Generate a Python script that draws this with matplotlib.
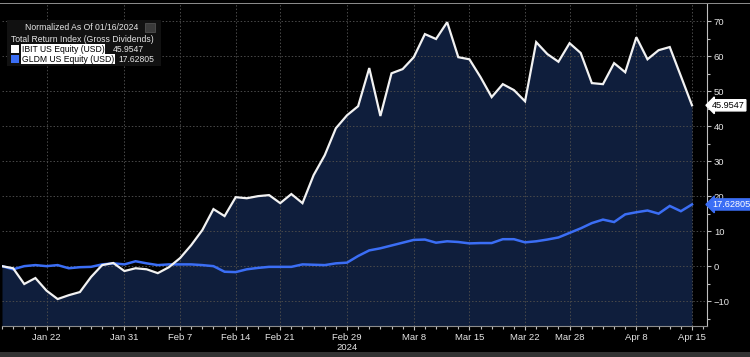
import numpy as np
import matplotlib.pyplot as plt
from matplotlib.patches import Rectangle
from matplotlib.ticker import FixedLocator, MultipleLocator

# IBIT vs GLDM, total return normalized as of 01/16/2024 (one point per trading day)
ibit = [0.0, -0.6, -5.1, -3.4, -7.0, -9.4, -8.3, -7.4, -3.1, 0.3,
        0.9, -1.4, -0.6, -0.9, -2.0, -0.3, 2.3, 6.0, 10.3, 16.3,
        14.3, 19.7, 19.4, 20.0, 20.3, 18.0, 20.6, 18.0, 26.0, 31.7,
        39.4, 43.1, 45.7, 56.6, 42.9, 55.1, 56.3, 59.7, 66.3, 64.9,
        69.7, 59.7, 59.1, 54.0, 48.3, 52.0, 50.3, 47.1, 64.0, 60.6,
        58.4, 63.7, 60.9, 52.3, 52.0, 58.0, 55.4, 65.4, 59.1, 61.7,
        62.6, 54.3, 45.9547]
gldm = [0.0, -0.9, 0.0, 0.3, 0.0, 0.3, -0.6, -0.3, -0.2, 0.5,
        0.8, 0.5, 1.4, 0.8, 0.3, 0.5, 0.5, 0.5, 0.3, 0.0,
        -1.6, -1.7, -0.9, -0.5, -0.2, -0.2, -0.2, 0.5, 0.4, 0.3,
        0.8, 1.0, 2.9, 4.5, 5.1, 5.9, 6.7, 7.5, 7.6, 6.7,
        7.1, 6.9, 6.5, 6.6, 6.6, 7.7, 7.7, 6.8, 7.1, 7.6,
        8.2, 9.5, 10.8, 12.3, 13.3, 12.6, 14.8, 15.4, 15.9, 15.0,
        17.2, 15.7, 17.62805]

tick_idx = [4, 11, 16, 21, 25, 31, 37, 42, 47, 51, 57, 62]
tick_lbl = ['Jan 22', 'Jan 31', 'Feb 7', 'Feb 14', 'Feb 21', 'Feb 29',
            'Mar 8', 'Mar 15', 'Mar 22', 'Mar 28', 'Apr 8', 'Apr 15']

navy = '#0f1e3c'
blue = '#3b6ef5'
grid = '#4a4a4a'
fnt = ['Liberation Sans', 'DejaVu Sans']
fs = 6.2

W, H = 750, 357
fig = plt.figure(figsize=(7.5, 3.57), dpi=100, facecolor='black')
ax = fig.add_axes([2 / W, 31 / H, 705 / W, 322 / H], facecolor='black')

x = np.arange(len(ibit))
ymin, ymax = -17.1, 74.9
ax.fill_between(x, ibit, ymin, color=navy, lw=0, zorder=1)
ax.plot(x, gldm, color=blue, lw=1.8, zorder=3, solid_joinstyle='miter')
ax.plot(x, ibit, color='#f2f2f2', lw=1.6, zorder=4, solid_joinstyle='miter')

ax.set_xlim(0, 705 / (690 / 62))
ax.set_ylim(ymin, ymax)

ax.xaxis.set_major_locator(FixedLocator(tick_idx))
ax.set_xticklabels(tick_lbl)
ax.xaxis.set_minor_locator(MultipleLocator(1))
ax.yaxis.tick_right()
ax.yaxis.set_major_locator(MultipleLocator(10))
ax.yaxis.set_minor_locator(MultipleLocator(5))

for s in ['top', 'left']:
    ax.spines[s].set_visible(False)
ax.spines['right'].set_color('#bfbfbf')
ax.spines['bottom'].set_color('#8c8c8c')
ax.tick_params(axis='both', which='both', colors='#bfbfbf', labelcolor='#e6e6e6',
               labelsize=6.8, direction='out', width=0.8)
ax.tick_params(axis='both', which='major', length=3, pad=2)
ax.tick_params(axis='both', which='minor', length=2)
for lab in ax.get_xticklabels() + ax.get_yticklabels():
    lab.set_family(fnt)

ax.grid(True, which='major', color=grid, lw=0.7, ls=(0, (1.5, 2)))
for gl in ax.get_xgridlines() + ax.get_ygridlines():
    gl.set_zorder(2)

# year label under Feb 29
ax.text(31, -0.052, '2024', transform=ax.get_xaxis_transform(), ha='center',
        va='top', color='#e6e6e6', fontsize=6.8, family=fnt)

# last value tags on the right axis
ax.annotate(f'{ibit[-1]:.4f}', xy=(1.0, ibit[-1]), xycoords=('axes fraction', 'data'),
            xytext=(3.5, 0), textcoords='offset points', ha='left', va='center',
            fontsize=6.6, family=fnt, color='black', annotation_clip=False, zorder=10,
            bbox=dict(boxstyle='larrow,pad=0.12', fc='white', ec='white'))
ax.annotate(f'{gldm[-1]:.5f}', xy=(1.0, gldm[-1]), xycoords=('axes fraction', 'data'),
            xytext=(3.5, 0), textcoords='offset points', ha='left', va='center',
            fontsize=6.6, family=fnt, color='white', annotation_clip=False, zorder=10,
            bbox=dict(boxstyle='larrow,pad=0.12', fc=blue, ec=blue))

# legend block, drawn in pixel coordinates
def px(xp, yp):
    return xp / W, 1 - yp / H

fig.patches.append(Rectangle(px(7, 66), 154 / W, 46 / H, transform=fig.transFigure,
                             fc='#111111', ec='none', zorder=5))
fig.patches.append(Rectangle(px(145, 32), 10 / W, 9 / H, transform=fig.transFigure,
                             fc='#3a3a3a', ec='#5a5a5a', lw=0.5, zorder=6))
fig.text(*px(82, 28), 'Normalized As Of 01/16/2024', ha='center', va='center',
         color='#e6e6e6', fontsize=fs, family=fnt, zorder=7)
fig.text(*px(11, 39), 'Total Return Index (Gross Dividends)', ha='left', va='center',
         color='#e6e6e6', fontsize=fs, family=fnt, zorder=7)
legend_rows = [('IBIT US Equity (USD)', f'{ibit[-1]:.4f}', 'white', 49, 113),
               ('GLDM US Equity (USD)', f'{gldm[-1]:.5f}', blue, 59, 118)]
for name, val, col, yp, xv in legend_rows:
    fig.patches.append(Rectangle(px(11, yp + 4), 8 / W, 8 / H, transform=fig.transFigure,
                                 fc=col, ec='none', zorder=6))
    fig.text(*px(22, yp), name, ha='left', va='center', color='black', fontsize=fs,
             family=fnt, zorder=7,
             bbox=dict(boxstyle='square,pad=0.08', fc='white', ec='none'))
    fig.text(*px(xv, yp), val, ha='left', va='center', color='#e6e6e6', fontsize=fs,
             family=fnt, zorder=7)

# frame bits: thin top line and bottom strip
fig.patches.append(Rectangle((0, 1 - 4 / H), 1, 1.2 / H, transform=fig.transFigure,
                             fc='#8a8a8a', ec='none', zorder=8))
fig.patches.append(Rectangle((0, 0), 1, 5 / H, transform=fig.transFigure,
                             fc='#333333', ec='none', zorder=8))

fig.savefig('out.png', dpi=100, facecolor='black')
